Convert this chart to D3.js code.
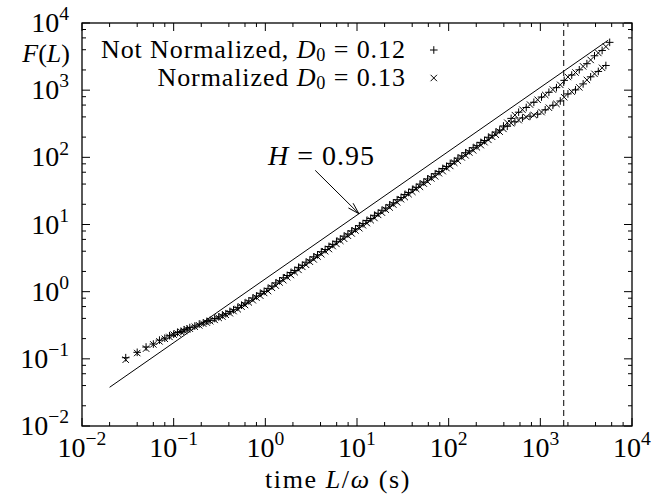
<!DOCTYPE html>
<html>
<head>
<meta charset="utf-8">
<script src="https://cdn.jsdelivr.net/npm/d3@7"></script>
<style>
  body { margin: 0; background: #fff; }
  text { font-family: "Liberation Serif", "Times New Roman", serif; fill: #000; }
</style>
</head>
<body>
<svg id="chart" width="664" height="494"></svg>
<script>
// Window length L/omega (s), shared by both series
const timeValues = [
  0.03, 0.04, 0.05, 0.06, 0.07, 0.08, 0.09, 0.10, 0.11, 0.12, 0.13, 0.14, 0.15,
  0.17, 0.19, 0.21, 0.23, 0.25,
  0.28, 0.31, 0.34, 0.37, 0.41, 0.45, 0.50, 0.55, 0.60, 0.66, 0.73, 0.80, 0.88, 0.97,
  1.07, 1.18, 1.30, 1.43, 1.57, 1.73, 1.90, 2.09, 2.30, 2.53, 2.78, 3.06,
  3.37, 3.71, 4.08, 4.49, 4.94, 5.43, 5.97, 6.57, 7.23, 7.95, 8.75, 9.62,
  10.6, 11.6, 12.8, 14.1, 15.5, 17.0, 18.7, 20.6, 22.7, 24.9, 27.4, 30.2,
  33.2, 36.5, 40.2, 44.2, 48.6, 53.5, 58.8, 64.7, 71.2, 78.3, 86.1, 94.7,
  104, 115, 126, 139, 153, 168, 185, 203, 224, 246, 271, 298, 327, 360,
  396, 436, 480, 528, 580, 638, 702, 772, 850, 935,
  1030, 1130, 1240, 1370, 1500, 1650, 1820, 2000, 2200, 2420,
  2660, 2930, 3220, 3540, 3900, 4290, 4720, 5190, 5710
];

// Fluctuation function F(L), not normalized (D0 = 0.12)
const notNormalized = [
  0.104, 0.125, 0.150, 0.166, 0.190, 0.203, 0.221, 0.233, 0.247, 0.256, 0.271, 0.279, 0.292,
  0.308, 0.329, 0.343, 0.362, 0.374,
  0.399, 0.421, 0.450, 0.470, 0.507, 0.538, 0.584, 0.628, 0.680, 0.730, 0.805, 0.862, 0.946, 1.01,
  1.12, 1.21, 1.35, 1.45, 1.61, 1.74, 1.93, 2.07, 2.30, 2.47, 2.75, 2.96,
  3.30, 3.54, 3.93, 4.24, 4.71, 5.06, 5.62, 6.06, 6.71, 7.22, 8.03, 8.63,
  9.59, 10.3, 11.5, 12.3, 13.7, 14.7, 16.3, 17.6, 19.6, 21.0, 23.4, 25.2,
  28.0, 30.0, 33.4, 35.8, 39.9, 42.8, 47.7, 51.2, 57.0, 61.3, 68.2, 73.2,
  81.3, 87.8, 97.3, 105, 117, 125, 139, 149, 167, 178, 199, 213, 238, 255,
  293, 290, 380, 338, 470, 385, 552, 410, 660, 440,
  790, 510, 930, 595, 1090, 690, 1400, 880, 1680, 1010,
  2010, 1240, 2480, 1580, 3250, 1900, 3900, 2330, 5150
];

// Fluctuation function F(L), normalized (D0 = 0.13)
const normalized = [
  0.097, 0.122, 0.142, 0.164, 0.182, 0.199, 0.212, 0.229, 0.238, 0.253, 0.260, 0.274, 0.281,
  0.301, 0.315, 0.334, 0.346, 0.363,
  0.380, 0.407, 0.426, 0.452, 0.477, 0.514, 0.547, 0.598, 0.633, 0.692, 0.745, 0.815, 0.872, 0.957,
  1.02, 1.14, 1.23, 1.37, 1.48, 1.64, 1.77, 1.95, 2.11, 2.34, 2.51, 2.79,
  3.02, 3.33, 3.61, 4.00, 4.31, 4.77, 5.14, 5.71, 6.14, 6.81, 7.35, 8.14,
  8.79, 9.74, 10.5, 11.6, 12.5, 13.9, 15.0, 16.6, 17.9, 19.8, 21.4, 23.8,
  25.6, 28.3, 30.6, 33.9, 36.4, 40.6, 43.5, 48.5, 52.1, 58.0, 62.3, 69.2,
  74.4, 83.0, 89.0, 99.5, 107, 118, 127, 141, 152, 168, 182, 202, 217, 241,
  265, 328, 322, 425, 358, 512, 398, 610, 425, 720,
  472, 850, 548, 1020, 625, 1200, 785, 1570, 950, 1830,
  1100, 2260, 1420, 2820, 1750, 3580, 2150, 4450, null
];

const seriesLabels = [
  [{ t: "Not Normalized, " }, { t: "D", i: true }, { t: "0", sub: true }, { t: " = 0.12" }],
  [{ t: "Normalized " }, { t: "D", i: true }, { t: "0", sub: true }, { t: " = 0.13" }]
];
const seriesSymbols = ["plus", "cross"];

const decadeExponents = [-2, -1, 0, 1, 2, 3, 4];
const minorMultipliers = [2, 4, 6, 8];

// Reference power law F ~ L^H
const hurstExponent = 0.95;
const fitPrefactor = 1.55;
const fitRange = [0.02, 5500];
const hurstLabelAt = [1.07, 77];
const arrowFrom = [3.5, 64];
const arrowToTime = 10.5;

const cutoffTime = 1800;

// ---------------------------------------------------------------
const FS = 28;
const plot = { left: 82, right: 632, top: 23, bottom: 426 };

const svg = d3.select("#chart");
const x = d3.scaleLog().domain([1e-2, 1e4]).range([plot.left, plot.right]);
const y = d3.scaleLog().domain([1e-2, 1e4]).range([plot.bottom, plot.top]);

// multi-part label: italic runs, super- and subscripts
function rich(textSel, parts, fs, subShift = 0.2) {
  let cur = 0;
  parts.forEach(p => {
    const target = p.sup ? -0.42 * fs : p.sub ? subShift * fs : 0;
    const ts = textSel.append("tspan").text(p.t).attr("dy", target - cur);
    cur = target;
    if (p.i) ts.attr("font-style", "italic");
    if (p.sup || p.sub) ts.attr("font-size", 0.7 * fs);
  });
}
function powerLabel(e) {
  return [{ t: "10" }, { t: e < 0 ? "\u2212" + (-e) : String(e), sup: true }];
}

const majorTicks = decadeExponents.map(e => Math.pow(10, e));
const minorTicks = [];
decadeExponents.slice(0, -1).forEach(e =>
  minorMultipliers.forEach(m => minorTicks.push(m * Math.pow(10, e))));

// ticks on all four sides, pointing inward
const tickG = svg.append("g").attr("stroke", "#000").attr("stroke-width", 1);
function ticks(vals, len) {
  vals.forEach(v => {
    const xv = x(v), yv = y(v);
    tickG.append("line").attr("x1", xv).attr("x2", xv).attr("y1", plot.bottom).attr("y2", plot.bottom - len);
    tickG.append("line").attr("x1", xv).attr("x2", xv).attr("y1", plot.top).attr("y2", plot.top + len);
    tickG.append("line").attr("y1", yv).attr("y2", yv).attr("x1", plot.left).attr("x2", plot.left + len);
    tickG.append("line").attr("y1", yv).attr("y2", yv).attr("x1", plot.right).attr("x2", plot.right - len);
  });
}
ticks(majorTicks, 8);
ticks(minorTicks, 4);

majorTicks.forEach((v, i) => {
  const e = decadeExponents[i];
  const tx = svg.append("text").attr("x", x(v)).attr("y", plot.bottom + 31)
    .attr("text-anchor", "middle").attr("font-size", FS);
  rich(tx, powerLabel(e), FS);
  const ty = svg.append("text").attr("x", plot.left - 13).attr("y", y(v) + 9)
    .attr("text-anchor", "end").attr("font-size", FS);
  rich(ty, powerLabel(e), FS);
});

// axis titles
const TFS = 26;
const xt = svg.append("text").attr("x", 338).attr("y", plot.bottom + 62)
  .attr("text-anchor", "middle").attr("font-size", TFS).attr("letter-spacing", 1.6);
rich(xt, [{ t: "time " }, { t: "L", i: true }, { t: "/" }, { t: "\u03c9", i: true }, { t: " (s)" }], TFS);
const yt = svg.append("text").attr("x", plot.left - 12).attr("y", plot.top + 39)
  .attr("text-anchor", "end").attr("font-size", TFS);
rich(yt, [{ t: "F", i: true }, { t: "(" }, { t: "L", i: true }, { t: ")" }], TFS);

// cutoff marker
svg.append("line")
  .attr("x1", x(cutoffTime)).attr("x2", x(cutoffTime))
  .attr("y1", plot.bottom).attr("y2", plot.top)
  .attr("stroke", "#000").attr("stroke-width", 1).attr("stroke-dasharray", "6,4");

// power-law reference line
const fit = t => fitPrefactor * Math.pow(t, hurstExponent);
svg.append("line")
  .attr("x1", x(fitRange[0])).attr("y1", y(fit(fitRange[0])))
  .attr("x2", x(fitRange[1])).attr("y2", y(fit(fitRange[1])))
  .attr("stroke", "#000").attr("stroke-width", 1);

// point symbols
const half = 3.8;
const symbolPath = {
  plus: `M${-half},0H${half}M0,${-half}V${half}`,
  cross: `M${-half + 0.6},${-half + 0.6}L${half - 0.6},${half - 0.6}M${-half + 0.6},${half - 0.6}L${half - 0.6},${-half + 0.6}`
};
[notNormalized, normalized].forEach((vals, si) => {
  const pts = timeValues.map((t, i) => [t, vals[i]]).filter(d => d[1] != null);
  svg.append("g").selectAll("path").data(pts).join("path")
    .attr("transform", d => `translate(${x(d[0])},${y(d[1])})`)
    .attr("d", symbolPath[seriesSymbols[si]])
    .attr("fill", "none").attr("stroke", "#000").attr("stroke-width", 1);
});

// H label and arrow
const hl = svg.append("text").attr("x", x(hurstLabelAt[0])).attr("y", y(hurstLabelAt[1]))
  .attr("font-size", FS).attr("letter-spacing", 1);
rich(hl, [{ t: "H", i: true }, { t: " = " + hurstExponent.toFixed(2) }], FS);
{
  const x0 = x(arrowFrom[0]), y0 = y(arrowFrom[1]);
  const x1 = x(arrowToTime), y1 = y(fit(arrowToTime));
  svg.append("line").attr("x1", x0).attr("y1", y0).attr("x2", x1).attr("y2", y1)
    .attr("stroke", "#000").attr("stroke-width", 1);
  const ang = Math.atan2(y1 - y0, x1 - x0), len = 12, spread = 0.28;
  const p = a => [x1 - len * Math.cos(a), y1 - len * Math.sin(a)];
  const a1 = p(ang + spread), a2 = p(ang - spread);
  svg.append("path").attr("d", `M${a1[0]},${a1[1]}L${x1},${y1}L${a2[0]},${a2[1]}`)
    .attr("fill", "none").attr("stroke", "#000").attr("stroke-width", 1);
}

// legend: right-justified text followed by the symbol
const LFS = 26;
const legendLeft = 101, legendBase = 58, legendStep = 28;
const legendTexts = seriesLabels.map((parts, i) => {
  const t = svg.append("text").attr("y", legendBase + i * legendStep).attr("font-size", LFS)
    .attr("text-anchor", "end").attr("letter-spacing", 0.9);
  rich(t, parts, LFS, 0.12);
  return t;
});
const maxW = d3.max(legendTexts, t => t.node().getComputedTextLength());
legendTexts.forEach((t, i) => {
  t.attr("x", legendLeft + maxW);
  svg.append("path")
    .attr("transform", `translate(${legendLeft + maxW + 28},${legendBase + i * legendStep - 8})`)
    .attr("d", symbolPath[seriesSymbols[i]])
    .attr("fill", "none").attr("stroke", "#000").attr("stroke-width", 1);
});

// frame
svg.append("rect").attr("x", plot.left).attr("y", plot.top)
  .attr("width", plot.right - plot.left).attr("height", plot.bottom - plot.top)
  .attr("fill", "none").attr("stroke", "#000").attr("stroke-width", 1.3);
</script>
</body>
</html>
